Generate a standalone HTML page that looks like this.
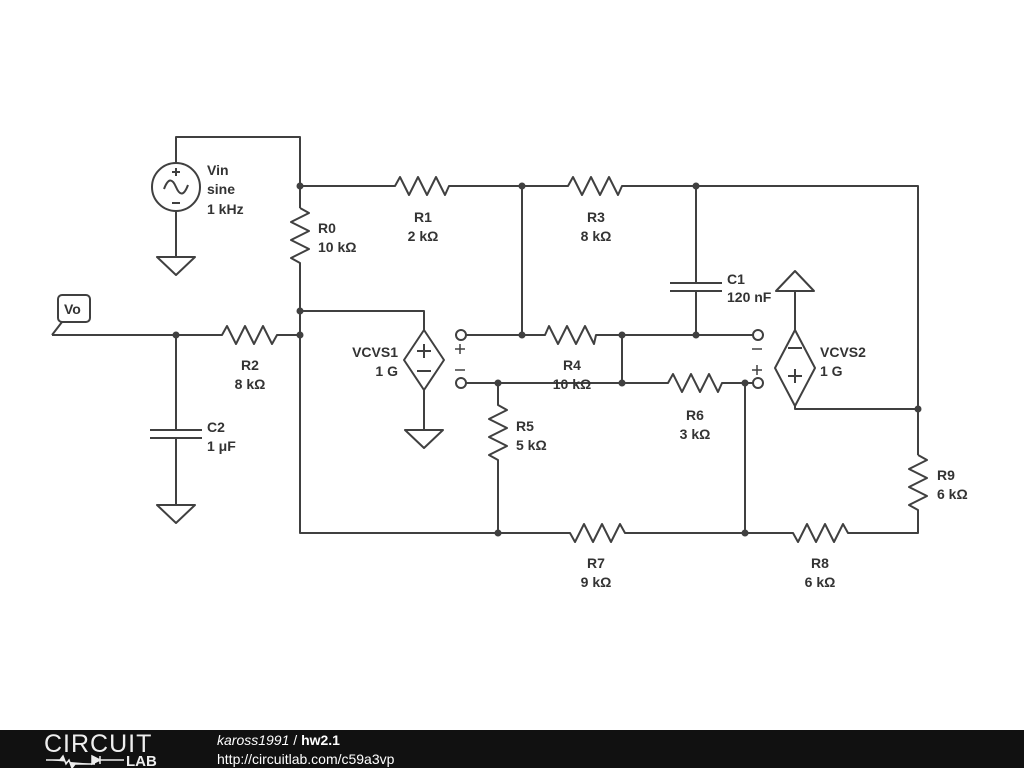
<!DOCTYPE html>
<html><head><meta charset="utf-8"><style>
html,body{margin:0;padding:0;background:#fff;width:1024px;height:768px;overflow:hidden}
svg{display:block}
text{font-family:"Liberation Sans",sans-serif;font-weight:bold;font-size:14px;fill:#333}
</style></head><body>
<svg width="1024" height="768" viewBox="0 0 1024 768">
<g stroke="#404040" stroke-width="2" fill="none" stroke-linejoin="round">
<path d="M176,163 V137 H300 V208"/>
<circle cx="176" cy="187" r="24"/>
<path d="M164,189 q6,-16 12,-2 q6,14 12,-2"/>
<path d="M172,172 h8 M176,168 v8 M172,203 h8"/>
<path d="M176,211 V257 M157,257 H195 L176,275 Z"/>
<path d="M300,208 l9,5 l-18,9 l18,9 l-18,9 l18,9 l-18,9 l9,5 V335"/>
<path d="M300,186 H395 l5,-9 l9,18 l9,-18 l9,18 l9,-18 l9,18 l4,-9 H568 l5,-9 l9,18 l9,-18 l9,18 l9,-18 l9,18 l4,-9 H918 V455"/>
<path d="M918,455 l9,5 l-18,9 l18,9 l-18,9 l18,9 l-18,9 l9,5 V533 H848 l-5,-9 l-9,18 l-9,-18 l-9,18 l-9,-18 l-9,18 l-5,-9 H625 l-5,-9 l-9,18 l-9,-18 l-9,18 l-9,-18 l-9,18 l-5,-9 H300 V335"/>
<path d="M300,311 H424 V330 M424,390 V430 M405,430 H443 L424,448 Z"/>
<path d="M424,330 L444,360 L424,390 L404,360 Z"/>
<path d="M417,351 h14 M424,344 v14 M417,371 h14"/>
<path d="M52,335 H222 l5,-9 l9,18 l9,-18 l9,18 l9,-18 l9,18 l5,-9 H300"/>
<path d="M52,335 L62,322"/>
<rect x="58" y="295" width="32" height="27" rx="4" fill="#fff"/>
<path d="M176,335 V430 M150,430 H202 M150,438 H202 M176,438 V505 M157,505 H195 L176,523 Z"/>
<circle cx="461" cy="335" r="5" fill="#fff"/>
<circle cx="461" cy="383" r="5" fill="#fff"/>
<circle cx="758" cy="335" r="5" fill="#fff"/>
<circle cx="758" cy="383" r="5" fill="#fff"/>
<path d="M466,335 H545 l4,-9 l9,18 l9,-18 l9,18 l9,-18 l9,18 l2,-9 H753"/>
<path d="M522,186 V335 M622,335 V383 M696,186 V283 M670,283 H722 M670,291 H722 M696,291 V335"/>
<path d="M466,383 H668 l5,-9 l9,18 l9,-18 l9,18 l9,-18 l9,18 l4,-9 H753 M745,383 V533"/>
<path d="M498,383 V405 l9,5 l-18,9 l18,9 l-18,9 l18,9 l-18,9 l9,5 V533"/>
<path d="M795,330 V291 M776,291 H814 L795,271 Z"/>
<path d="M795,330 L815,368 L795,406 L775,368 Z"/>
<path d="M788,348 h14 M788,376 h14 M795,369 v14"/>
<path d="M795,406 V409 H918"/>
</g>
<g stroke="#404040" stroke-width="1.5">
<path d="M455,349 h10 M460,344 v10 M455,370 h10 M752,349 h10 M752,370 h10 M757,365 v10"/>
</g>
<g fill="#404040">
<circle cx="300" cy="186" r="3.5"/><circle cx="522" cy="186" r="3.5"/><circle cx="696" cy="186" r="3.5"/>
<circle cx="300" cy="311" r="3.5"/><circle cx="300" cy="335" r="3.5"/><circle cx="176" cy="335" r="3.5"/>
<circle cx="522" cy="335" r="3.5"/><circle cx="622" cy="335" r="3.5"/><circle cx="696" cy="335" r="3.5"/>
<circle cx="498" cy="383" r="3.5"/><circle cx="622" cy="383" r="3.5"/><circle cx="745" cy="383" r="3.5"/>
<circle cx="918" cy="409" r="3.5"/><circle cx="498" cy="533" r="3.5"/><circle cx="745" cy="533" r="3.5"/>
</g>
<text x="64" y="314">Vo</text>
<text x="207" y="175">Vin</text><text x="207" y="194">sine</text><text x="207" y="214">1 kHz</text>
<text x="318" y="233">R0</text><text x="318" y="252">10 kΩ</text>
<text x="423" y="222" text-anchor="middle">R1</text><text x="423" y="241" text-anchor="middle">2 kΩ</text>
<text x="596" y="222" text-anchor="middle">R3</text><text x="596" y="241" text-anchor="middle">8 kΩ</text>
<text x="727" y="284">C1</text><text x="727" y="302">120 nF</text>
<text x="207" y="432">C2</text><text x="207" y="451">1 μF</text>
<text x="250" y="370" text-anchor="middle">R2</text><text x="250" y="389" text-anchor="middle">8 kΩ</text>
<text x="398" y="357" text-anchor="end">VCVS1</text><text x="398" y="376" text-anchor="end">1 G</text>
<text x="572" y="370" text-anchor="middle">R4</text><text x="572" y="389" text-anchor="middle">10 kΩ</text>
<text x="695" y="420" text-anchor="middle">R6</text><text x="695" y="439" text-anchor="middle">3 kΩ</text>
<text x="516" y="431">R5</text><text x="516" y="450">5 kΩ</text>
<text x="820" y="357">VCVS2</text><text x="820" y="376">1 G</text>
<text x="937" y="480">R9</text><text x="937" y="499">6 kΩ</text>
<text x="596" y="568" text-anchor="middle">R7</text><text x="596" y="587" text-anchor="middle">9 kΩ</text>
<text x="820" y="568" text-anchor="middle">R8</text><text x="820" y="587" text-anchor="middle">6 kΩ</text>
<rect x="0" y="730" width="1024" height="38" fill="#111"/>
<text x="44" y="752" style="font-weight:normal;font-size:25px;fill:#eee;letter-spacing:1px">CIRCUIT</text>
<path d="M46,760 h14 l3,-4 l3,8 l3,-4 l3,8 l3,-4 h20 M92,756 v8 l8,-4 z M100,756 v8 M100,760 h24" stroke="#eee" stroke-width="1.5" fill="#eee"/>
<text x="126" y="766" style="font-size:15px;fill:#eee">LAB</text>
<text x="217" y="745" style="font-weight:normal;font-style:italic;font-size:14px;fill:#fff">kaross1991 <tspan style="font-style:normal">/</tspan> <tspan style="font-weight:bold;font-style:normal">hw2.1</tspan></text>
<text x="217" y="764" style="font-weight:normal;font-size:14px;fill:#fff">http://circuitlab.com/c59a3vp</text>
</svg>
</body></html>
